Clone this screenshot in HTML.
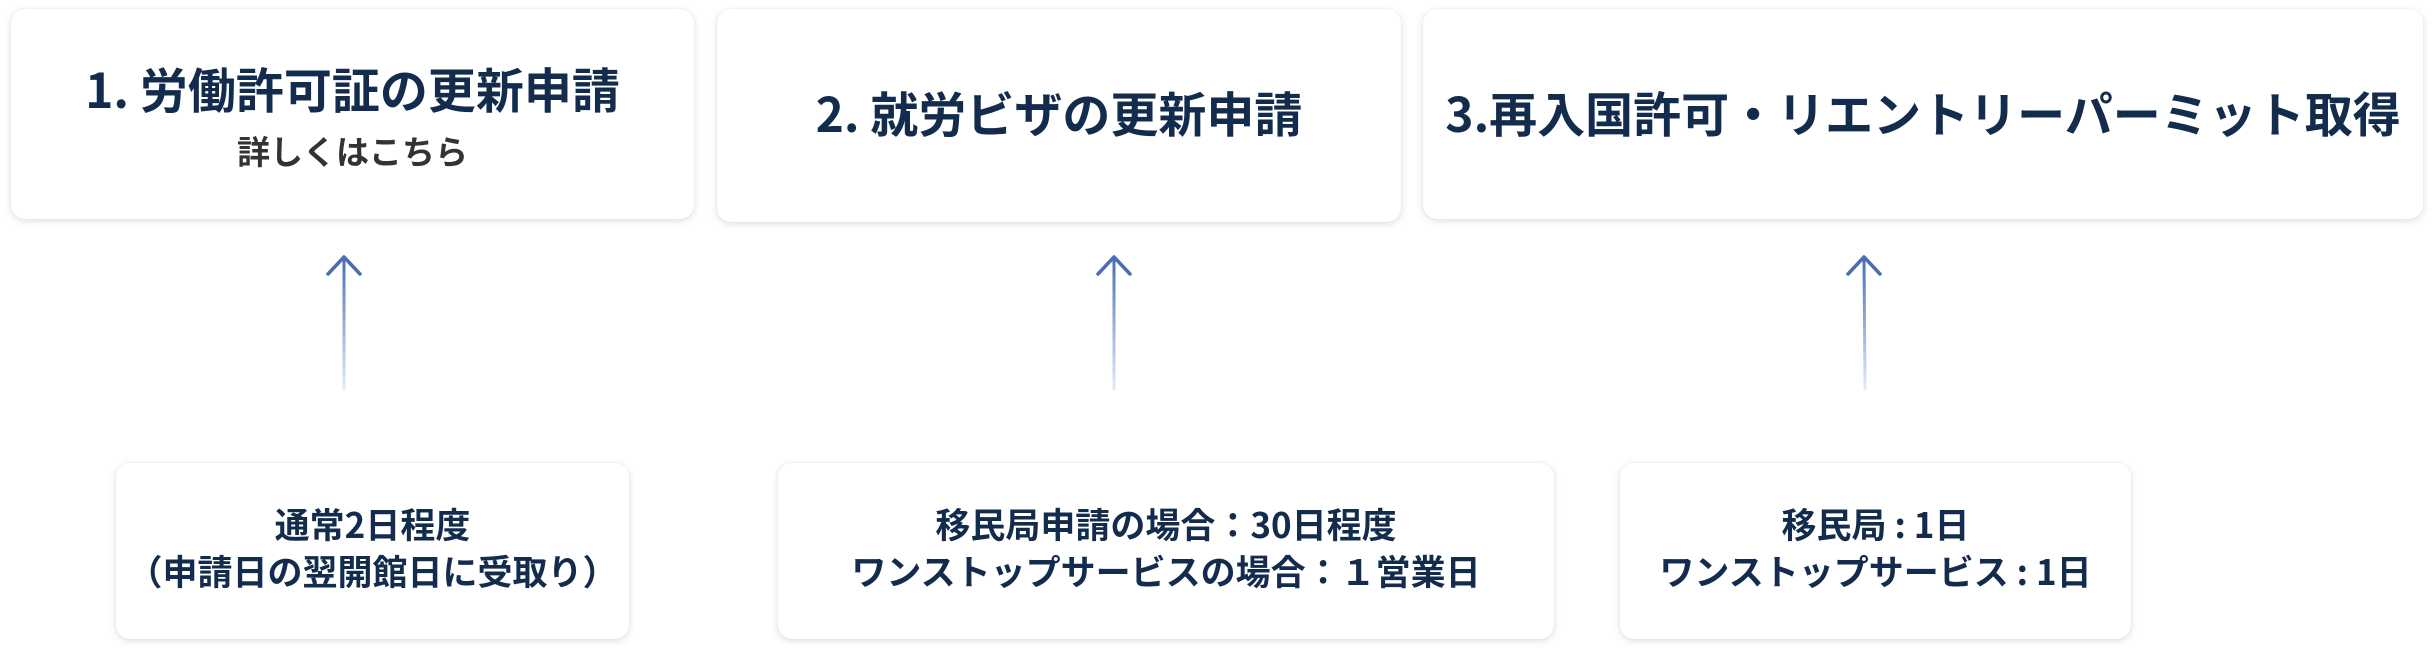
<!DOCTYPE html>
<html><head><meta charset="utf-8"><style>
html,body{margin:0;padding:0;background:#fff;}
body{width:2433px;height:650px;position:relative;overflow:hidden;font-family:"Noto Sans CJK JP","Liberation Sans",sans-serif;}
.box{position:absolute;background:#fff;border-radius:14px;box-shadow:0 2px 8px rgba(0,0,0,0.13),0 0 2px rgba(0,0,0,0.06);}
.t{position:absolute;left:0;right:0;text-align:center;color:#132c4d;font-weight:700;white-space:nowrap;}
.b{color:#132c4d;font-weight:700;font-size:35px;line-height:47px;}
svg{position:absolute;left:0;top:0;}
</style></head><body>
<div class="box" style="left:11px;top:9px;width:683px;height:210px;">
  <div class="t" style="top:47px;font-size:48px;line-height:62px;">1. 労働許可証の更新申請</div>
  <div class="t" style="top:119px;font-size:33px;line-height:44px;color:#333;">詳しくはこちら</div>
</div>
<div class="box" style="left:717px;top:9px;width:684px;height:213px;">
  <div class="t" style="top:71px;font-size:48px;line-height:62px;">2. 就労ビザの更新申請</div>
</div>
<div class="box" style="left:1423px;top:9px;width:1000px;height:210px;">
  <div class="t" style="top:71px;font-size:48px;line-height:62px;">3.再入国許可・リエントリーパーミット取得</div>
</div>

<div class="box" style="left:116px;top:463px;width:513px;height:176px;">
  <div class="t b" style="top:37px;">通常2日程度<br>（申請日の翌開館日に受取り）</div>
</div>
<div class="box" style="left:778px;top:463px;width:776px;height:176px;">
  <div class="t b" style="top:37px;">移民局申請の場合：30日程度<br>ワンストップサービスの場合：１営業日</div>
</div>
<div class="box" style="left:1620px;top:463px;width:511px;height:176px;">
  <div class="t b" style="top:37px;">移民局 : 1日<br>ワンストップサービス : 1日</div>
</div>

<svg width="2433" height="650">
<defs><linearGradient id="g" gradientUnits="userSpaceOnUse" x1="0" y1="258" x2="0" y2="389">
<stop offset="0" stop-color="#4a6db3"/><stop offset="1" stop-color="#e3eafb"/></linearGradient></defs>
<g stroke="url(#g)" stroke-width="3" fill="none" stroke-linecap="round">
<line x1="344" y1="258" x2="344" y2="389"/>
<line x1="1114" y1="258" x2="1114" y2="389"/>
<line x1="1864" y1="258" x2="1865" y2="389"/>
</g>
<g stroke="#4a6db3" stroke-width="3.5" fill="none" stroke-linecap="round" stroke-linejoin="round">
<polyline points="328,274 344,257 360,274"/>
<polyline points="1098,274 1114,257 1130,274"/>
<polyline points="1848,274 1864,257 1880,274"/>
</g>
</svg>
</body></html>
